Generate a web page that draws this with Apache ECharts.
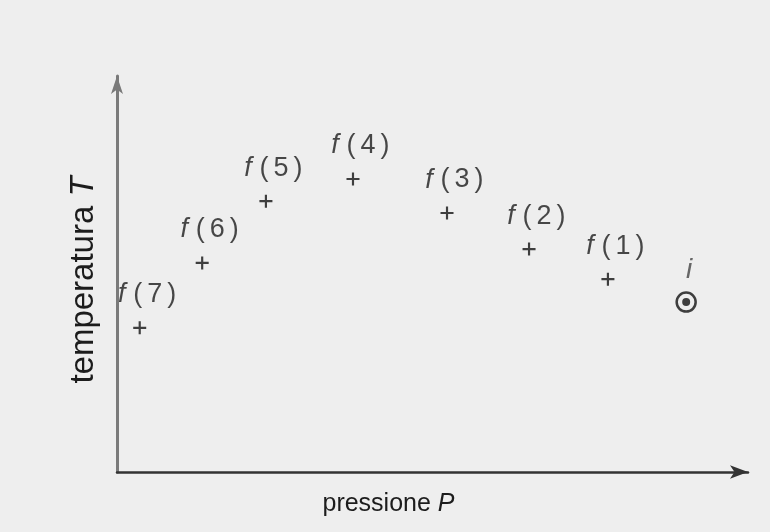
<!DOCTYPE html>
<html>
<head>
<meta charset="utf-8">
<script src="https://cdn.jsdelivr.net/npm/echarts@6/dist/echarts.min.js"></script>
<style>
  html, body { margin: 0; padding: 0; background: #eeeeee; }
  #chart { width: 770px; height: 532px; }
</style>
</head>
<body>
<div id="chart"></div>
<script>
// punti f(k) (scala 0-100 su entrambi gli assi)
const pointNames = ['7', '6', '5', '4', '3', '2', '1'];
const pressure = [3.6, 13.5, 23.6, 37.4, 52.3, 65.3, 77.8];
const temperature = [36.4, 52.8, 68.4, 74.0, 65.4, 56.3, 48.7];
// punto iniziale i
const startName = 'i';
const startPressure = [90.2];
const startTemperature = [42.9];

const font = 'Liberation Sans';
const ink = '#1c1c1c';
const chart = echarts.init(document.getElementById('chart'));

const option = {
  backgroundColor: '#eeeeee',
  animation: false,
  grid: { left: 117, right: 22, top: 76, bottom: 60 },
  xAxis: {
    type: 'value',
    min: 0,
    max: 100,
    name: '{a|pressione\u00a0}{b|P}',
    nameLocation: 'middle',
    nameGap: 20,
    nameTextStyle: {
      padding: [0, 88, 0, 0],
      rich: {
        a: { fontFamily: font, fontSize: 25, color: ink },
        b: { fontFamily: font, fontSize: 25, color: ink, fontStyle: 'italic' }
      }
    },
    axisLine: {
      lineStyle: { color: '#333', width: 2.5 },
      symbol: ['none', 'arrow'],
      symbolSize: [10, 18]
    },
    axisTick: { show: false },
    axisLabel: { show: false },
    splitLine: { show: false }
  },
  yAxis: {
    type: 'value',
    min: 0,
    max: 100,
    name: '{a|temperatura\u00a0}{b|T}',
    nameLocation: 'middle',
    nameRotate: 90,
    nameGap: 17,
    nameTextStyle: {
      padding: [0, 12, 0, 0],
      rich: {
        a: { fontFamily: font, fontSize: 33, color: ink },
        b: { fontFamily: font, fontSize: 33, color: ink, fontStyle: 'italic' }
      }
    },
    axisLine: {
      lineStyle: { color: '#7a7a7a', width: 3 },
      symbol: ['none', 'arrow'],
      symbolSize: [9, 18]
    },
    axisTick: { show: false },
    axisLabel: { show: false },
    splitLine: { show: false }
  },
  series: [
    {
      type: 'scatter',
      symbol: 'path://M5,0H7V5H12V7H7V12H5V7H0V5H5Z',
      symbolSize: 13,
      itemStyle: { color: '#111' },
      data: pressure.map((p, i) => ({ name: pointNames[i], value: [p, temperature[i]] })),
      label: {
        show: true,
        position: 'inside',
        offset: [6, -33],
        formatter: (d) => '{f|f}{p|(}{n|' + d.name + '}{p|)}',
        rich: {
          f: { fontFamily: font, fontSize: 27, fontStyle: 'italic', color: ink, width: 18, align: 'center' },
          p: { fontFamily: font, fontSize: 27, color: ink, width: 14, align: 'center' },
          n: { fontFamily: font, fontSize: 27, color: ink, width: 20, align: 'center' }
        }
      }
    },
    {
      // anello del punto iniziale
      type: 'scatter',
      symbol: 'circle',
      symbolSize: 19,
      itemStyle: { color: 'transparent', borderColor: '#111', borderWidth: 2.5 },
      data: startPressure.map((p, i) => ({ name: startName, value: [p, startTemperature[i]] })),
      label: {
        show: true,
        position: 'inside',
        offset: [3, -32],
        formatter: '{b}',
        fontFamily: font,
        fontSize: 28,
        fontStyle: 'italic',
        color: '#444'
      }
    },
    {
      // punto pieno al centro
      type: 'scatter',
      symbol: 'circle',
      symbolSize: 8,
      itemStyle: { color: '#111' },
      data: startPressure.map((p, i) => [p, startTemperature[i]])
    }
  ]
};

chart.setOption(option);
</script>
</body>
</html>
